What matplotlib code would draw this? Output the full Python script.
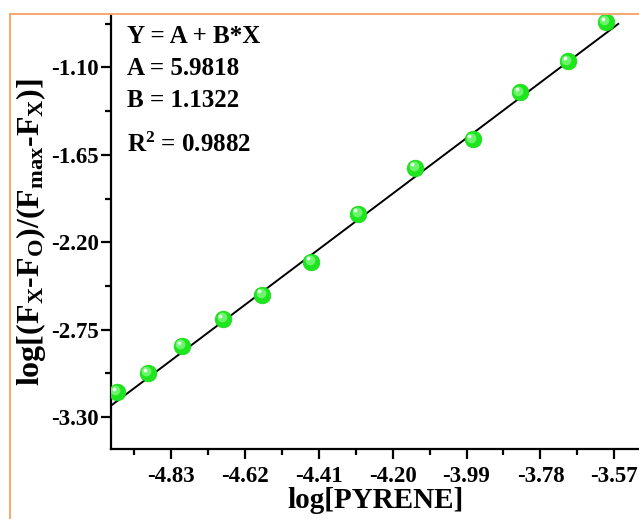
import numpy as np
import matplotlib
matplotlib.use("Agg")
import matplotlib.pyplot as plt
from matplotlib.lines import Line2D
from matplotlib.ticker import AutoMinorLocator
from matplotlib.transforms import offset_copy

plt.rcParams['font.family'] = ['Liberation Serif', 'DejaVu Serif']
plt.rcParams['font.weight'] = 'bold'
plt.rcParams['mathtext.fontset'] = 'custom'
plt.rcParams['mathtext.rm'] = 'Liberation Serif:bold'
plt.rcParams['mathtext.bf'] = 'Liberation Serif:bold'
plt.rcParams['mathtext.it'] = 'Liberation Serif:bold'

# values
log_pyrene = [-4.983, -4.895, -4.798, -4.681, -4.570, -4.431,
              -4.297, -4.135, -3.973, -3.839, -3.702, -3.594]
log_ratio = [-3.142, -3.022, -2.852, -2.682, -2.530, -2.322,
             -2.020, -1.730, -1.553, -1.257, -1.061, -0.815]

x_ticks = [-4.83, -4.62, -4.41, -4.20, -3.99, -3.78, -3.57]
y_ticks = [-1.10, -1.65, -2.20, -2.75, -3.30]

fit_lines = ["Y = A + B*X", "A = 5.9818", "B = 1.1322"]
r2_text = r"R$^{2}$ = 0.9882"

fig = plt.figure(figsize=(6.39, 5.19), dpi=100)
ax = fig.add_axes([111 / 639, 1 - 449 / 519, 1 - 111 / 639, (449 - 15) / 519])

# fitted line
slope, icpt = np.polyfit(log_pyrene, log_ratio, 1)
xf = np.array([-5.0, log_pyrene[-1] + 0.035])
ax.plot(xf, icpt + slope * xf - 0.02, color='black', lw=1.4, zorder=2)

# green balls with a small highlight
ax.plot(log_pyrene, log_ratio, 'o', ms=12, color='#1ee61e', mec='#14d814',
        mew=0.5, zorder=3)
ax.plot(log_pyrene, log_ratio, 'o', ms=7, color='#6cf56c', mew=0, zorder=4,
        transform=offset_copy(ax.transData, fig=fig, x=-1.2, y=1.2, units='points'))
ax.plot(log_pyrene, log_ratio, 'o', ms=2.8, color='#e8ffe8', mew=0, zorder=5,
        transform=offset_copy(ax.transData, fig=fig, x=-2.2, y=2.4, units='points'))

ax.set_xlim(-5.0, -3.5)
ax.set_ylim(-3.5, -0.77)
ax.set_xticks(x_ticks)
ax.set_xticklabels([f"{v:.2f}" for v in x_ticks])
ax.set_yticks(y_ticks)
ax.set_yticklabels([f"{v:.2f}" for v in y_ticks])
ax.xaxis.set_minor_locator(AutoMinorLocator(2))
ax.yaxis.set_minor_locator(AutoMinorLocator(2))
ax.tick_params(which='major', length=7, width=1.6, labelsize=16.5)
ax.tick_params(axis='y', which='major', pad=2)
ax.tick_params(axis='x', which='major', pad=5)
ax.tick_params(which='minor', length=4, width=1.6)

for s in ['top', 'right']:
    ax.spines[s].set_visible(False)
for s in ['left', 'bottom']:
    ax.spines[s].set_linewidth(1.6)

ax.set_xlabel("log[PYRENE]", fontsize=21, fontweight='bold', labelpad=0)
ax.set_ylabel(r"log[(F$_{X}$-F$_{O}$)/(F$_{max}$-F$_{X}$)]", fontsize=23,
              fontweight='bold', labelpad=2)

for i, t in enumerate(fit_lines):
    ax.text(127 / 639, 1 - (43 + 32 * i) / 519, t, transform=fig.transFigure,
            fontsize=18, fontweight='bold', va='baseline', ha='left')
ax.text(127 / 639, 1 - 152 / 519, r2_text, transform=fig.transFigure,
        fontsize=18, fontweight='bold', va='baseline', ha='left')

# orange frame from the page
orange = '#f6a772'
fig.add_artist(Line2D([10 / 639, 1], [1 - 14 / 519, 1 - 14 / 519], color=orange, lw=1.4))
fig.add_artist(Line2D([10 / 639, 10 / 639], [0, 1 - 14 / 519], color=orange, lw=1.4))

fig.savefig("out.png", dpi=100)
